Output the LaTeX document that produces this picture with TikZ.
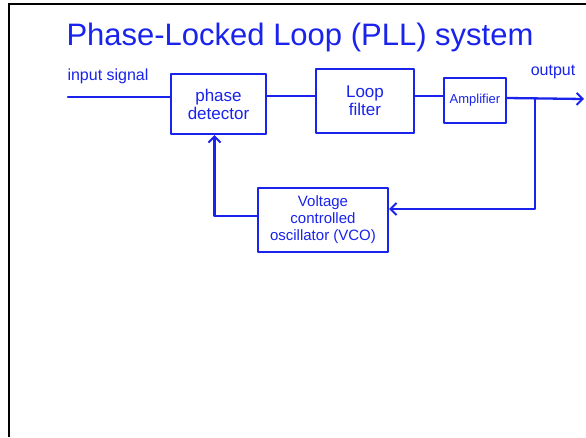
\documentclass[tikz,border=0pt]{standalone}
\usepackage{fontspec}
\setmainfont{Liberation Sans}
\usetikzlibrary{arrows.meta}
\definecolor{pen}{RGB}{25,35,235}
\begin{document}
\begin{tikzpicture}[x=1pt,y=-1pt,
  ink/.style={draw=pen,line width=2.3pt,line cap=round,line join=round},
  blockbox/.style={ink,rectangle,inner sep=0pt,text=pen,align=center,font=\fontsize{17}{18}\selectfont},
  wire/.style={ink},
  arr/.style={ink,-{Straight Barb[length=6pt,width=12pt,line width=2pt]}},
  lbl/.style={text=pen,inner sep=0pt}]
  % page area and its frame (top and left edges only)
  \useasboundingbox (0,0) rectangle (586,437);
  \fill[white] (0,0) rectangle (586,437);
  \draw[black,line width=1.4pt] (9,437) -- (9,4) -- (586,4);

  % title
  \node[lbl,font=\fontsize{31}{32}\selectfont] (title) at (300,37) {Phase-Locked Loop (PLL) system};

  % blocks
  \node[blockbox,minimum width=95pt,minimum height=60pt] (pd) at (218.5,104) {phase\\detector};
  \node[blockbox,minimum width=98pt,minimum height=64pt] (lf) at (365,101) {Loop\\filter};
  \node[blockbox,minimum width=62pt,minimum height=45pt,font=\fontsize{13}{14}\selectfont] (amp) at (475,100.5) {Amplifier};
  \node[blockbox,minimum width=130pt,minimum height=64pt,font=\fontsize{15}{17}\selectfont] (vco) at (323,220) {Voltage\\controlled\\oscillator (VCO)};

  % labels
  \node[lbl,font=\fontsize{16}{17}\selectfont] (inlbl) at (108,76) {input signal};
  \node[lbl,font=\fontsize{16}{17}\selectfont] (outlbl) at (553,72) {output};

  % signal path
  \coordinate (in) at (68,97);
  \coordinate (out) at (584,99);
  \coordinate (j) at (535,98);
  \draw[wire] (in) -- (in -| pd.west);
  \draw[wire] (pd.east |- 0,96) -- (lf.west |- 0,96);
  \draw[wire] (lf.east |- 0,96) -- (amp.west |- 0,96);
  \draw[arr] (amp.east |- 0,98) -- (out);

  % feedback loop
  \draw[arr] (j) |- ([yshift=11pt]vco.east);
  \draw[arr] ([yshift=4pt]vco.west) -| ([xshift=-4pt]pd.south);
\end{tikzpicture}
\end{document}
